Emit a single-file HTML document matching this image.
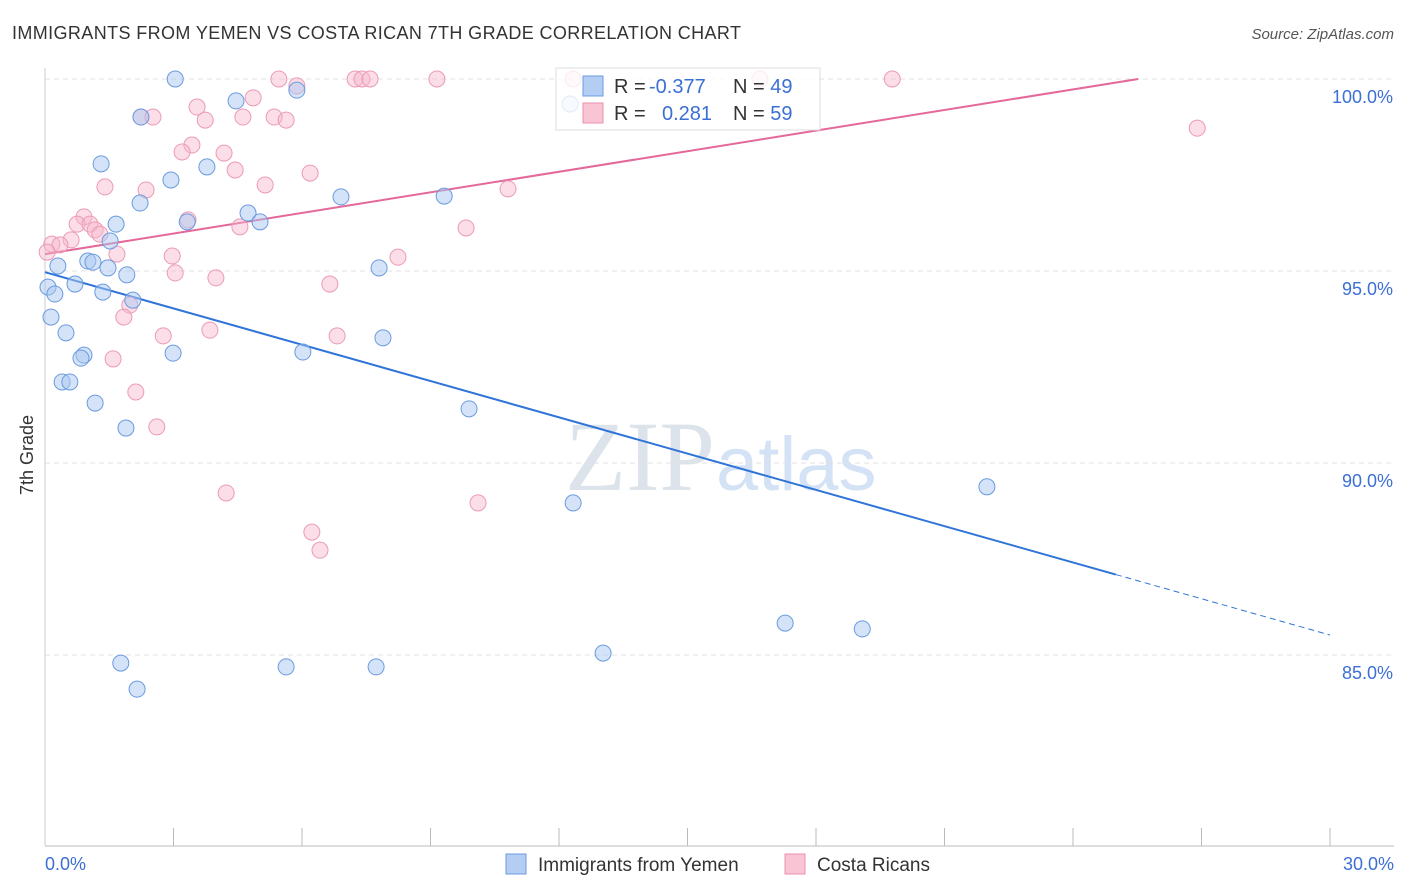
<!DOCTYPE html>
<html><head><meta charset="utf-8"><style>
body{margin:0;background:#fff;font-family:"Liberation Sans",sans-serif;}
svg{display:block}
</style></head><body>
<svg id="chart" width="1406" height="892" xmlns="http://www.w3.org/2000/svg">
<text x="12" y="39" font-size="18" fill="#333" textLength="729" lengthAdjust="spacing">IMMIGRANTS FROM YEMEN VS COSTA RICAN 7TH GRADE CORRELATION CHART</text>
<text x="1394" y="39" font-size="15" fill="#555" text-anchor="end" font-style="italic">Source: ZipAtlas.com</text>
<text x="715" y="490" font-size="100" fill="#dde3ea" text-anchor="end" font-family="Liberation Serif,serif">ZIP</text>
<text x="716" y="490" font-size="76" fill="#d3e2f4">atlas</text>
<text transform="translate(33,455) rotate(-90)" font-size="18" fill="#333" text-anchor="middle">7th Grade</text>
<g id="grid"></g><g id="axes"></g><g id="lines"></g><g id="pts"></g>
<g>
<rect x="556" y="68" width="264" height="62" fill="#fff" fill-opacity="0.8" stroke="#ddd"/>
<rect x="583" y="76" width="20" height="20" fill="#b3cdf3" stroke="#6a9be0"/>
<rect x="583" y="103" width="20" height="20" fill="#f9c4d4" stroke="#e890ae"/>
<text x="614" y="93" font-size="20" fill="#333">R = <tspan fill="#3b6fd4" x="649">-0.377</tspan><tspan fill="#333" x="733">N = </tspan><tspan fill="#3b6fd4">49</tspan></text>
<text x="614" y="120" font-size="20" fill="#333">R = <tspan fill="#3b6fd4" x="662">0.281</tspan><tspan fill="#333" x="733">N = </tspan><tspan fill="#3b6fd4">59</tspan></text>
</g>
<g>
<rect x="506" y="854" width="20" height="20" fill="#b3cdf3" stroke="#6a9be0"/>
<text x="538" y="871" font-size="19" fill="#333">Immigrants from Yemen</text>
<rect x="785" y="854" width="20" height="20" fill="#f9c4d4" stroke="#e890ae"/>
<text x="817" y="871" font-size="19" fill="#333">Costa Ricans</text>
</g>
</svg>
<script>
const yTicks=[100,95,90,85];
const xTickLabels=["0.0%","30.0%"];
const blueX=[3.04,4.46,5.88,2.24,1.31,3.78,2.94,2.22,4.74,1.66,5.02,3.32,6.91,9.32,1.52,0.30,1.00,1.12,1.47,1.91,7.80,0.70,0.07,0.23,1.35,2.05,0.14,0.49,0.91,0.84,2.99,6.02,7.89,0.40,0.58,1.17,9.90,1.89,12.33,21.99,17.28,19.08,13.03,1.77,5.63,7.73,2.15,12.26];
const blueY=[100,99.43,99.71,99.01,97.79,97.71,97.37,96.77,96.51,96.22,96.28,96.28,96.93,96.95,95.78,95.13,95.26,95.23,95.08,94.90,95.08,94.66,94.58,94.40,94.45,94.24,93.80,93.39,92.81,92.73,92.86,92.89,93.26,92.11,92.11,91.56,91.41,90.91,88.96,89.38,85.83,85.68,85.05,84.79,84.69,84.69,84.11,99.35];
const pinkX=[5.46,7.24,7.40,7.59,9.15,12.33,16.69,19.78,5.88,4.86,3.55,2.24,2.52,3.74,4.62,5.35,5.63,3.43,3.20,4.18,4.44,6.19,1.40,2.36,5.14,10.81,3.34,4.55,9.83,0.91,0.75,1.05,1.17,1.28,0.61,0.16,0.35,0.05,1.68,2.97,8.24,3.04,3.99,6.65,1.98,1.84,2.76,3.85,6.82,1.59,2.12,2.61,4.23,10.11,6.23,6.42,26.90];
const pinkY=[100,100,100,100,100,100,100,100,99.82,99.51,99.27,99.01,99.01,98.93,99.01,99.01,98.93,98.28,98.10,98.07,97.63,97.55,97.19,97.11,97.24,97.14,96.33,96.15,96.12,96.41,96.22,96.22,96.07,95.96,95.81,95.70,95.68,95.49,95.44,95.39,95.36,94.95,94.82,94.66,94.11,93.80,93.31,93.46,93.31,92.71,91.85,90.94,89.22,88.96,88.20,87.73,98.72];
const blueLine=[94.97,85.52];
const pinkLine=[95.44,100.8];
const X=v=>45+v*(1285/30), Y=v=>79+(100-v)*38.4;
const NS="http://www.w3.org/2000/svg";
function mk(p,t,a){const e=document.createElementNS(NS,t);for(const k in a)e.setAttribute(k,a[k]);document.getElementById(p).appendChild(e);return e;}
yTicks.forEach(t=>{
 const g=mk('grid','line',{x1:45,x2:1394,y1:Y(t),y2:Y(t),stroke:'#e0e0e0','stroke-dasharray':'5,4'});
 
 
 const l=mk('axes','text',{x:1393,y:Y(t)+24,'font-size':18,fill:'#3b6fd4','text-anchor':'end'});
 l.textContent=t.toFixed(1)+'%';
 
 
});
const ax=mk('axes','line',{x1:45,x2:1394,y1:846,y2:846,stroke:'#bbb'});


for(let i=0;i<=10;i++){const t=mk('axes','line',{x1:X(i*3),x2:X(i*3),y1:828,y2:846,stroke:'#bbb'});
 
 }
const ya=mk('axes','line',{x1:45,x2:45,y1:68,y2:846,stroke:'#ccc'});


[[0,45,'start'],[1,1394,'end']].forEach(([i,x,a])=>{const t=mk('axes','text',{x:x,y:870,'font-size':18,fill:'#3b6fd4','text-anchor':a});t.textContent=xTickLabels[i];
 
 });
const by=x=>blueLine[0]+(blueLine[1]-blueLine[0])*x/30;
const b1=mk('lines','line',{x1:X(0),y1:Y(by(0)),x2:X(25),y2:Y(by(25)),stroke:'#2f74d8','stroke-width':2});


const b2=mk('lines','line',{x1:X(25),y1:Y(by(25)),x2:X(30),y2:Y(by(30)),stroke:'#2f74d8','stroke-width':1,'stroke-dasharray':'6,4'});


const pend=(100-pinkLine[0])/(pinkLine[1]-pinkLine[0])*30;
const p1=mk('lines','line',{x1:X(0),y1:Y(pinkLine[0]),x2:X(pend),y2:Y(100),stroke:'#e4689a','stroke-width':2});


pinkX.forEach((x,i)=>{const c=mk('pts','circle',{cx:X(x),cy:Y(pinkY[i]),r:8,fill:'#f7b6cb','fill-opacity':0.45,stroke:'#ec9ab6','stroke-width':1});
 
 });
blueX.forEach((x,i)=>{const c=mk('pts','circle',{cx:X(x),cy:Y(blueY[i]),r:8,fill:'#a9c8f0','fill-opacity':0.5,stroke:'#6a9be0','stroke-width':1});
 
 });
</script>
</body></html>
